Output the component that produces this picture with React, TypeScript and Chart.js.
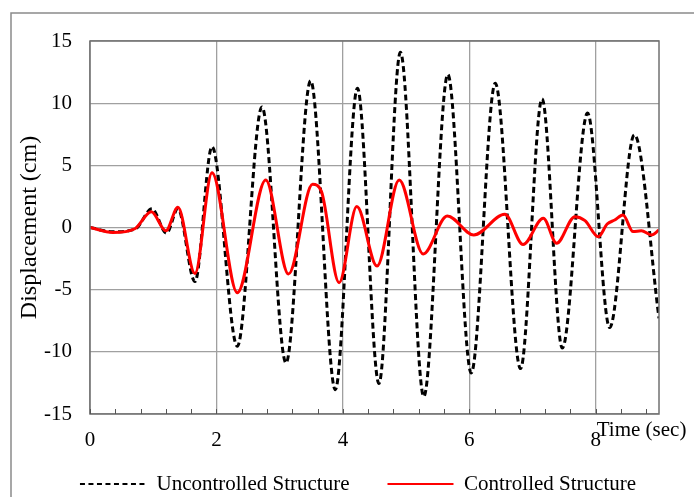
import React, { useEffect, useRef } from "react";
import { Chart, registerables } from "chart.js";

Chart.register(...registerables);

const uncontrolledTime = [0, 0.36, 0.72, 0.98, 1.21, 1.39, 1.66, 1.93, 2.33, 2.72, 3.1, 3.49, 3.88, 4.23, 4.57, 4.91, 5.28, 5.66, 6.03, 6.41, 6.81, 7.15, 7.47, 7.87, 8.22, 8.61, 9.0];
const uncontrolledDisp = [0, -0.35, -0.1, 1.5, -0.45, 1.5, -4.35, 6.5, -9.55, 9.7, -10.9, 11.8, -13.05, 11.2, -12.55, 14.1, -13.6, 12.3, -11.7, 11.6, -11.35, 10.35, -9.7, 9.2, -8.05, 7.45, -7.3];

const controlledTime = [0, 0.36, 0.71, 0.97, 1.2, 1.39, 1.66, 1.93, 2.33, 2.78, 3.14, 3.52, 3.66, 3.94, 4.22, 4.54, 4.89, 5.27, 5.65, 6.07, 6.56, 6.85, 7.17, 7.38, 7.67, 7.83, 8.04, 8.18, 8.3, 8.43, 8.59, 8.72, 8.88, 9.0];
const controlledDisp = [0, -0.4, -0.1, 1.27, -0.26, 1.62, -3.7, 4.41, -5.24, 3.82, -3.74, 3.47, 2.9, -4.44, 1.68, -3.1, 3.82, -2.13, 0.93, -0.6, 1.06, -1.37, 0.74, -1.27, 0.87, 0.55, -0.74, 0.28, 0.6, 1.0, -0.33, -0.26, -0.6, -0.2];

const seriesNames = ["Uncontrolled Structure", "Controlled Structure"];
const xTitle = "Time (sec)";
const yTitle = "Displacement (cm)";

const FONT = '"Liberation Serif", "Times New Roman", serif';
const CANVAS_W = 716;
const CANVAS_H = 505;

const decor = {
  id: "decor",
  beforeDraw(chart: any) {
    const ctx = chart.ctx;
    ctx.save();
    ctx.strokeStyle = "#8a8a8a";
    ctx.lineWidth = 1.5;
    ctx.strokeRect(11, 13, 800, 600);
    ctx.restore();
  },
  afterDraw(chart: any) {
    const { ctx, chartArea: a } = chart;
    const x = chart.scales.x;
    ctx.save();
    ctx.strokeStyle = "#707070";
    ctx.lineWidth = 1.5;
    ctx.strokeRect(a.left, a.top, a.right - a.left, a.bottom - a.top);
    ctx.lineWidth = 1;
    ctx.strokeStyle = "#555";
    for (let i = 0; i <= 22; i++) {
      const px = Math.round(x.getPixelForValue(i * 0.4)) + 0.5;
      ctx.beginPath();
      ctx.moveTo(px, a.bottom);
      ctx.lineTo(px, a.bottom - 5);
      ctx.stroke();
    }
    ctx.fillStyle = "#000";
    ctx.font = "21px " + FONT;
    ctx.textAlign = "left";
    ctx.textBaseline = "middle";
    ctx.fillText(xTitle, x.getPixelForValue(8) + 1, a.bottom + 16);
    ctx.restore();
  },
};

export default function App() {
  const ref = useRef<HTMLCanvasElement | null>(null);
  useEffect(() => {
    if (!ref.current) return;
    const chart = new Chart(ref.current, {
      type: "line",
      data: {
        datasets: [
          {
            label: seriesNames[0],
            data: uncontrolledTime.map((t, i) => ({ x: t, y: uncontrolledDisp[i] })),
            borderColor: "#000000",
            backgroundColor: "#000000",
            borderWidth: 3,
            borderDash: [6, 3.5],
            pointRadius: 0,
            cubicInterpolationMode: "monotone",
            order: 1,
          },
          {
            label: seriesNames[1],
            data: controlledTime.map((t, i) => ({ x: t, y: controlledDisp[i] })),
            borderColor: "#ff0000",
            backgroundColor: "#ff0000",
            borderWidth: 3,
            pointRadius: 0,
            cubicInterpolationMode: "monotone",
            order: 0,
          },
        ],
      },
      options: {
        responsive: false,
        animation: false,
        devicePixelRatio: 1,
        layout: { padding: { left: 0, right: 0, top: 41, bottom: 0.5 } },
        plugins: {
          tooltip: { enabled: false },
          legend: {
            position: "bottom",
            labels: {
              usePointStyle: true,
              pointStyle: "line",
              pointStyleWidth: 66,
              padding: 38,
              color: "#000",
              font: { family: FONT, size: 21 },
              sort: (a: any, b: any) => a.datasetIndex - b.datasetIndex,
              generateLabels: (chart: any) =>
                (Chart as any).defaults.plugins.legend.labels
                  .generateLabels(chart)
                  .map((l: any) => {
                    const ds = chart.data.datasets[l.datasetIndex];
                    return {
                      ...l,
                      lineWidth: 2.2,
                      strokeStyle: ds.borderColor,
                      lineDash: ds.borderDash ? [5, 3.5] : [],
                    };
                  }),
            },
          },
        },
        scales: {
          x: {
            type: "linear",
            min: 0,
            max: 9,
            afterFit: (s: any) => {
              s.height = 21.5;
            },
            ticks: {
              stepSize: 2,
              includeBounds: false,
              mirror: true,
              padding: -38.6,
              color: "#000",
              font: { family: FONT, size: 21 },
            },
            grid: { drawTicks: false, color: "#a0a0a0", lineWidth: 1.3 },
            border: { display: false },
          },
          y: {
            min: -15,
            max: 15,
            afterFit: (s: any) => {
              s.width = 90;
            },
            ticks: { stepSize: 5, padding: 18, color: "#000", font: { family: FONT, size: 21 } },
            grid: { drawTicks: false, color: "#a0a0a0", lineWidth: 1.3 },
            border: { display: false },
            title: {
              display: true,
              text: yTitle,
              color: "#000",
              font: { family: FONT, size: 24 },
              padding: { top: 15.6, bottom: 0 },
            },
          },
          yRight: {
            type: "linear",
            position: "right",
            display: true,
            afterFit: (s: any) => {
              s.width = CANVAS_W - 659;
            },
            ticks: { display: false },
            grid: { display: false, drawTicks: false },
            border: { display: false },
          },
        },
      },
      plugins: [decor],
    });
    return () => chart.destroy();
  }, []);
  return (
    <div style={{ position: "fixed", left: 0, top: 0, width: 694, height: 497, overflow: "hidden" }}>
      <canvas
        ref={ref}
        width={CANVAS_W}
        height={CANVAS_H}
        style={{ display: "block", width: CANVAS_W, height: CANVAS_H }}
      />
    </div>
  );
}
